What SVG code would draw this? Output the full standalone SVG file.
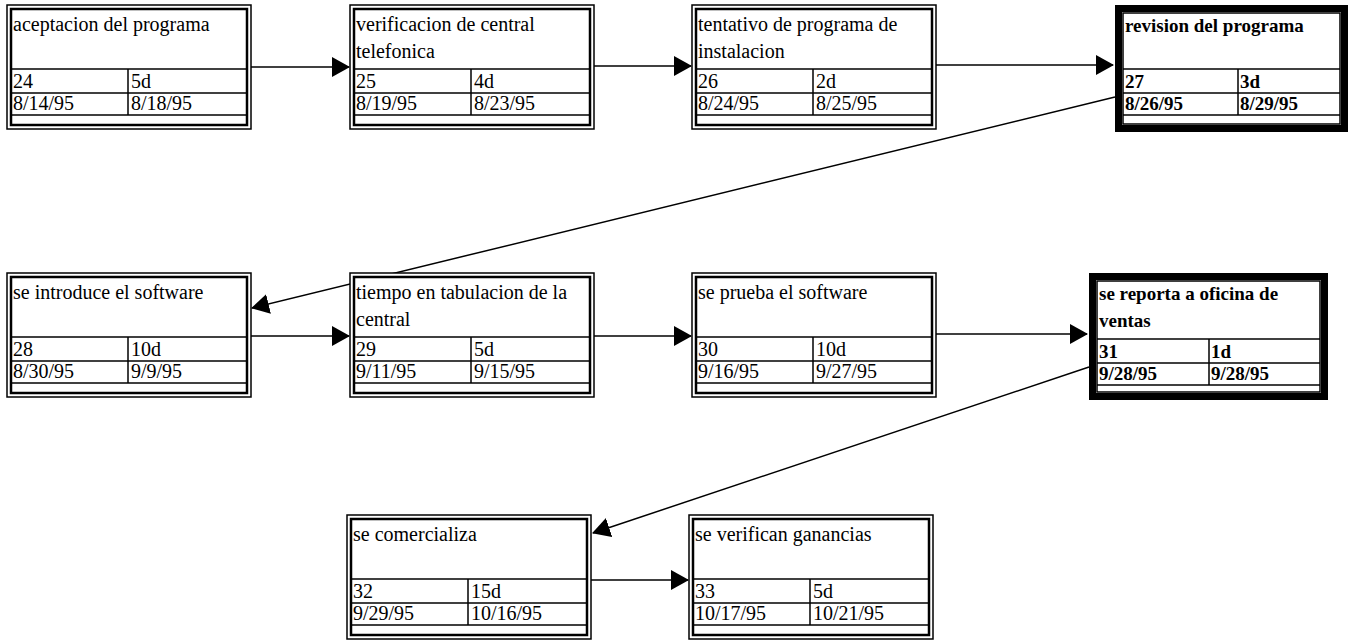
<svg xmlns="http://www.w3.org/2000/svg" width="1350" height="642" viewBox="0 0 1350 642">
<style>
text{font-family:"Liberation Serif","Times New Roman",serif;font-size:20px;fill:#000}
.crit text{font-weight:bold;font-size:19px}
.outer{fill:#fff;stroke:#000;stroke-width:1.5}
.inner{fill:none;stroke:#000;stroke-width:2.5}
.thick{fill:#fff;stroke:#000;stroke-width:7}
.thin{fill:none;stroke:#000;stroke-width:1.5}
.cell{stroke:#000;stroke-width:1.5}
.conn line{stroke:#000;stroke-width:1.5;marker-end:url(#ah)}
</style>
<defs>
<marker id="ah" markerUnits="userSpaceOnUse" markerWidth="18" markerHeight="20" refX="17" refY="10" orient="auto">
<path d="M0,0 L18,10 L0,20 Z" fill="#000"/>
</marker>
</defs>
<rect width="1350" height="642" fill="#fff"/>

<g id="connectors" class="conn">
<line x1="251" y1="67" x2="349" y2="67"/>
<line x1="594" y1="66" x2="691" y2="66"/>
<line x1="936" y1="65" x2="1113" y2="65"/>
<line x1="1115" y1="97" x2="252" y2="308"/>
<line x1="251" y1="336" x2="349" y2="336"/>
<line x1="594" y1="336" x2="691" y2="336"/>
<line x1="936" y1="334" x2="1087" y2="334"/>
<line x1="1089" y1="367" x2="593" y2="533"/>
<line x1="591" y1="580" x2="688" y2="580"/>
</g>

<g id="n24" transform="translate(7,5)">
<rect class="outer" x="0" y="0" width="244" height="124"/><rect class="inner" x="4" y="4" width="236" height="116"/>
<line class="cell" x1="4" y1="64" x2="240" y2="64"/><line class="cell" x1="4" y1="88" x2="240" y2="88"/><line class="cell" x1="4" y1="110" x2="240" y2="110"/><line class="cell" x1="121" y1="64" x2="121" y2="110"/>
<text x="6" y="26">aceptacion del programa</text>
<text x="6" y="83">24</text><text x="124" y="83">5d</text>
<text x="6" y="105">8/14/95</text><text x="124" y="105">8/18/95</text>
</g>

<g id="n25" transform="translate(350,5)">
<rect class="outer" x="0" y="0" width="244" height="124"/><rect class="inner" x="4" y="4" width="236" height="116"/>
<line class="cell" x1="4" y1="64" x2="240" y2="64"/><line class="cell" x1="4" y1="88" x2="240" y2="88"/><line class="cell" x1="4" y1="110" x2="240" y2="110"/><line class="cell" x1="121" y1="64" x2="121" y2="110"/>
<text x="6" y="26">verificacion de central</text>
<text x="6" y="53">telefonica</text>
<text x="6" y="83">25</text><text x="124" y="83">4d</text>
<text x="6" y="105">8/19/95</text><text x="124" y="105">8/23/95</text>
</g>

<g id="n26" transform="translate(692,5)">
<rect class="outer" x="0" y="0" width="244" height="124"/><rect class="inner" x="4" y="4" width="236" height="116"/>
<line class="cell" x1="4" y1="64" x2="240" y2="64"/><line class="cell" x1="4" y1="88" x2="240" y2="88"/><line class="cell" x1="4" y1="110" x2="240" y2="110"/><line class="cell" x1="121" y1="64" x2="121" y2="110"/>
<text x="6" y="26">tentativo de programa de</text>
<text x="6" y="53">instalacion</text>
<text x="6" y="83">26</text><text x="124" y="83">2d</text>
<text x="6" y="105">8/24/95</text><text x="124" y="105">8/25/95</text>
</g>

<g id="n27" class="crit" transform="translate(1115,5)">
<rect class="thick" x="3.5" y="3.5" width="226" height="120"/><rect class="thin" x="8" y="8" width="217" height="111"/>
<line class="cell" x1="8" y1="64" x2="225" y2="64"/><line class="cell" x1="8" y1="88" x2="225" y2="88"/><line class="cell" x1="8" y1="110" x2="225" y2="110"/><line class="cell" x1="123" y1="64" x2="123" y2="110"/>
<text x="10" y="27">revision del programa</text>
<text x="10" y="83">27</text><text x="125" y="83">3d</text>
<text x="10" y="105">8/26/95</text><text x="125" y="105">8/29/95</text>
</g>

<g id="n28" transform="translate(7,273)">
<rect class="outer" x="0" y="0" width="244" height="124"/><rect class="inner" x="4" y="4" width="236" height="116"/>
<line class="cell" x1="4" y1="64" x2="240" y2="64"/><line class="cell" x1="4" y1="88" x2="240" y2="88"/><line class="cell" x1="4" y1="110" x2="240" y2="110"/><line class="cell" x1="121" y1="64" x2="121" y2="110"/>
<text x="6" y="26">se introduce el software</text>
<text x="6" y="83">28</text><text x="124" y="83">10d</text>
<text x="6" y="105">8/30/95</text><text x="124" y="105">9/9/95</text>
</g>

<g id="n29" transform="translate(350,273)">
<rect class="outer" x="0" y="0" width="244" height="124"/><rect class="inner" x="4" y="4" width="236" height="116"/>
<line class="cell" x1="4" y1="64" x2="240" y2="64"/><line class="cell" x1="4" y1="88" x2="240" y2="88"/><line class="cell" x1="4" y1="110" x2="240" y2="110"/><line class="cell" x1="121" y1="64" x2="121" y2="110"/>
<text x="6" y="26">tiempo en tabulacion de la</text>
<text x="6" y="53">central</text>
<text x="6" y="83">29</text><text x="124" y="83">5d</text>
<text x="6" y="105">9/11/95</text><text x="124" y="105">9/15/95</text>
</g>

<g id="n30" transform="translate(692,273)">
<rect class="outer" x="0" y="0" width="244" height="124"/><rect class="inner" x="4" y="4" width="236" height="116"/>
<line class="cell" x1="4" y1="64" x2="240" y2="64"/><line class="cell" x1="4" y1="88" x2="240" y2="88"/><line class="cell" x1="4" y1="110" x2="240" y2="110"/><line class="cell" x1="121" y1="64" x2="121" y2="110"/>
<text x="6" y="26">se prueba el software</text>
<text x="6" y="83">30</text><text x="124" y="83">10d</text>
<text x="6" y="105">9/16/95</text><text x="124" y="105">9/27/95</text>
</g>

<g id="n31" class="crit" transform="translate(1089,273)">
<rect class="thick" x="3.5" y="3.5" width="232" height="120"/><rect class="thin" x="8" y="8" width="223" height="111"/>
<line class="cell" x1="8" y1="66" x2="231" y2="66"/><line class="cell" x1="8" y1="90" x2="231" y2="90"/><line class="cell" x1="8" y1="112" x2="231" y2="112"/><line class="cell" x1="120" y1="66" x2="120" y2="112"/>
<text x="10" y="27">se reporta a oficina de</text>
<text x="10" y="54">ventas</text>
<text x="10" y="85">31</text><text x="122" y="85">1d</text>
<text x="10" y="107">9/28/95</text><text x="122" y="107">9/28/95</text>
</g>

<g id="n32" transform="translate(347,515)">
<rect class="outer" x="0" y="0" width="244" height="124"/><rect class="inner" x="4" y="4" width="236" height="116"/>
<line class="cell" x1="4" y1="64" x2="240" y2="64"/><line class="cell" x1="4" y1="88" x2="240" y2="88"/><line class="cell" x1="4" y1="110" x2="240" y2="110"/><line class="cell" x1="121" y1="64" x2="121" y2="110"/>
<text x="6" y="26">se comercializa</text>
<text x="6" y="83">32</text><text x="124" y="83">15d</text>
<text x="6" y="105">9/29/95</text><text x="124" y="105">10/16/95</text>
</g>

<g id="n33" transform="translate(689,515)">
<rect class="outer" x="0" y="0" width="244" height="124"/><rect class="inner" x="4" y="4" width="236" height="116"/>
<line class="cell" x1="4" y1="64" x2="240" y2="64"/><line class="cell" x1="4" y1="88" x2="240" y2="88"/><line class="cell" x1="4" y1="110" x2="240" y2="110"/><line class="cell" x1="121" y1="64" x2="121" y2="110"/>
<text x="6" y="26">se verifican ganancias</text>
<text x="6" y="83">33</text><text x="124" y="83">5d</text>
<text x="6" y="105">10/17/95</text><text x="124" y="105">10/21/95</text>
</g>
</svg>
